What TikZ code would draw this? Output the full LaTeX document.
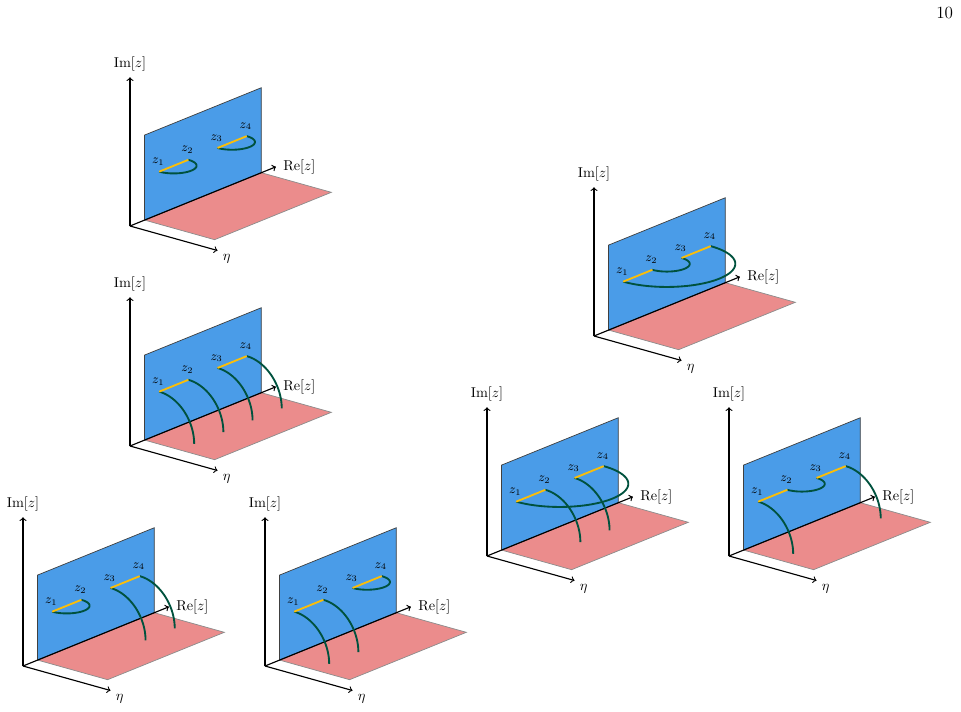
\documentclass[tikz,border=0pt]{standalone}
\definecolor{planeblue}{RGB}{74,156,232}
\definecolor{planered}{RGB}{235,140,140}
\definecolor{curvegreen}{RGB}{0,82,62}
\definecolor{segyellow}{RGB}{250,190,10}
\tikzset{
  axisline/.style={->, line width=0.8pt},
  blueplane/.style={fill=planeblue, draw=black!75, line width=0.5pt},
  redplane/.style={fill=planered, draw=black!45, line width=0.5pt},
  cutline/.style={draw=curvegreen, line width=1.3pt},
  segline/.style={draw=segyellow, line width=1.3pt},
  zlab/.style={font=\small, inner sep=0pt, xshift=-0.7pt, yshift=7pt},
  axlab/.style={inner sep=0pt},
}
% base of one panel: planes, axes, labels, points
\newcommand\panelbase[1]{%
  \coordinate (#1o) at (0,0,0);
  \coordinate (#1im) at (0,0,3.5);
  \coordinate (#1re) at (5,0,0);
  \coordinate (#1eta) at (0,2.5,0);
  \coordinate (#1b1) at (0.5,0,0);
  \coordinate (#1b2) at (4.5,0,0);
  \coordinate (#1b3) at (4.5,0,2);
  \coordinate (#1b4) at (0.5,0,2);
  \coordinate (#1r3) at (4.5,2,0);
  \coordinate (#1r4) at (0.5,2,0);
  \coordinate (#1z1) at (1,0,1);
  \coordinate (#1z2) at (2,0,1);
  \coordinate (#1z3) at (3,0,1);
  \coordinate (#1z4) at (4,0,1);
  \path[redplane] (#1b1) -- (#1b2) -- (#1r3) -- (#1r4) -- cycle;
  \path[blueplane] (#1b1) -- (#1b2) -- (#1b3) -- (#1b4) -- cycle;
  \draw[axisline] (#1o) -- (#1im);
  \draw[axisline] (#1o) -- (#1re);
  \draw[axisline] (#1o) -- (#1eta);
  \node[axlab, above=4.3pt] (#1lim) at (#1im) {Im$[z]$};
  \node[axlab, anchor=west, xshift=5pt] (#1lre) at (#1re) {Re$[z]$};
  \node[axlab, xshift=6.4pt, yshift=-6pt] (#1leta) at (#1eta) {$\eta$};
  \node[zlab] (#1l1) at (#1z1) {$z_1$};
  \node[zlab] (#1l2) at (#1z2) {$z_2$};
  \node[zlab] (#1l3) at (#1z3) {$z_3$};
  \node[zlab] (#1l4) at (#1z4) {$z_4$};
}
\newcommand\yellowsegs[1]{%
  \draw[segline] (#1z1) -- (#1z2);
  \draw[segline] (#1z3) -- (#1z4);
}
% semicircle in the plane Im=1 from z_j back to z_i
\newcommand\semi[2]{%
  \draw[cutline] plot[domain=0:180, samples=60]
    ({(#1+#2)/2+(#2-#1)/2*cos(\x)},{(#2-#1)/2*sin(\x)},{1});
}
% quarter circle from z_i down to the eta plane
\newcommand\quart[1]{%
  \draw[cutline] plot[domain=0:90, samples=40]
    ({#1},{sin(\x)},{cos(\x)});
}
\begin{document}
\begin{tikzpicture}[
  x={(20.43pt,8.29pt)},
  y={(24.5pt,-6.86pt)},
  z={(0pt,29.75pt)}]
\useasboundingbox (0pt,0pt) rectangle (672.7pt,-498.4pt);
\node[inner sep=0pt] (pagenum) at (661.3pt,-9.1pt) {\large 10};

% panel A (top left)
\begin{scope}[shift={(91pt,-158.2pt)}]
  \panelbase{A}
  \semi{1}{2}
  \semi{3}{4}
  \yellowsegs{A}
\end{scope}

% panel B (middle left)
\begin{scope}[shift={(91pt,-312.2pt)}]
  \panelbase{B}
  \quart{1}\quart{2}\quart{3}\quart{4}
  \yellowsegs{B}
\end{scope}

% panel C (bottom, far left)
\begin{scope}[shift={(16.1pt,-466.2pt)}]
  \panelbase{C}
  \semi{1}{2}
  \quart{3}\quart{4}
  \yellowsegs{C}
\end{scope}

% panel D (bottom, second)
\begin{scope}[shift={(185.5pt,-466.2pt)}]
  \panelbase{D}
  \quart{1}\quart{2}
  \semi{3}{4}
  \yellowsegs{D}
\end{scope}

% panel E (top right)
\begin{scope}[shift={(415.8pt,-235.2pt)}]
  \panelbase{E}
  \semi{2}{3}
  \semi{1}{4}
  \yellowsegs{E}
\end{scope}

% panel F (bottom right, left)
\begin{scope}[shift={(340.9pt,-389.2pt)}]
  \panelbase{F}
  \semi{1}{4}
  \quart{2}\quart{3}
  \yellowsegs{F}
\end{scope}

% panel G (bottom right, right)
\begin{scope}[shift={(510.3pt,-389.2pt)}]
  \panelbase{G}
  \quart{1}
  \semi{2}{3}
  \quart{4}
  \yellowsegs{G}
\end{scope}
\end{tikzpicture}
\end{document}
